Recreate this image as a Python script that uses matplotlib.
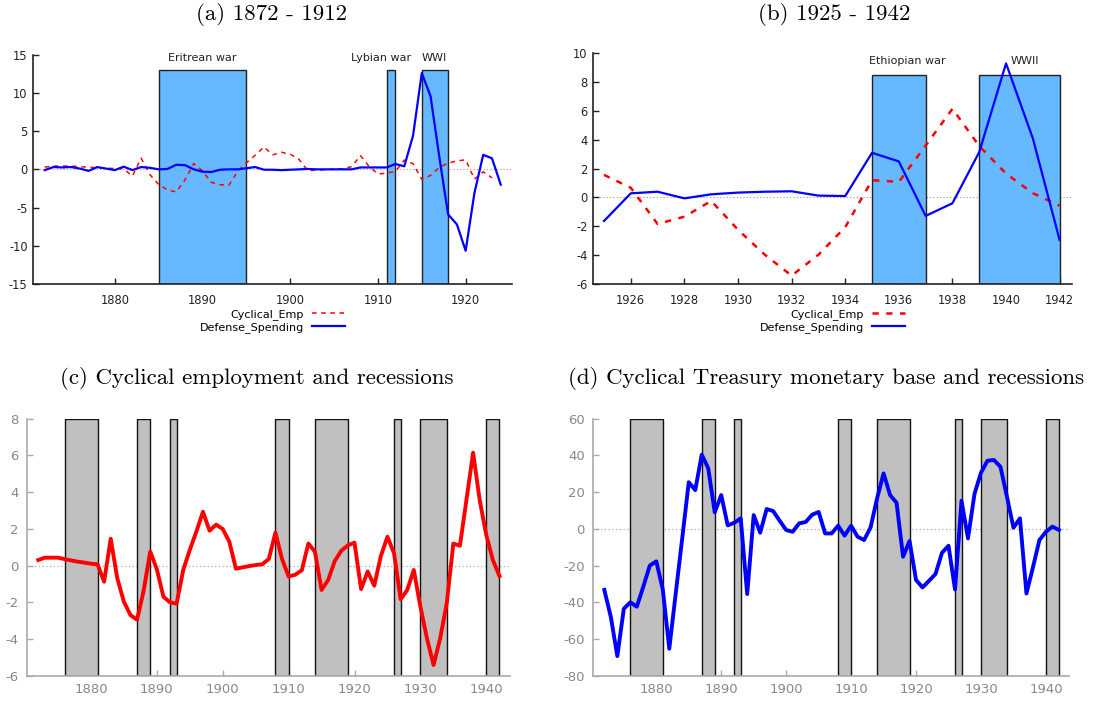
import matplotlib
matplotlib.use("Agg")
import matplotlib.pyplot as plt
import numpy as np

plt.rcParams['axes.unicode_minus'] = False
plt.rcParams['font.family'] = ['DejaVu Sans']

# ---------------- data ----------------
years_a = list(range(1872, 1925))
defense_a = [-0.1, 0.3, 0.25, 0.3, 0.1, -0.2, 0.3, 0.1, -0.1, 0.35,
             -0.1, 0.3, 0.2, 0.0, 0.05, 0.6, 0.55, 0.0, -0.3, -0.35,
             -0.05, 0.0, 0.0, 0.15, 0.3, -0.05, -0.05, -0.1, -0.05, 0.0,
             0.05, 0.0, 0.0, 0.0, 0.0, 0.0, 0.25, 0.25, 0.25, 0.25,
             0.7, 0.4, 4.4, 12.6, 9.55, 1.6, -5.9, -7.2, -10.65, -3.1,
             1.9, 1.45, -2.0]

years_b = list(range(1925, 1943))
defense_b = [-1.63, 0.29, 0.4, -0.06, 0.22, 0.34, 0.4, 0.43, 0.13, 0.1,
             3.1, 2.5, -1.28, -0.4, 3.15, 9.3, 4.1, -2.95]

years_all = list(range(1872, 1943))
cyclical_emp = [0.3, 0.43, 0.43, 0.43, 0.35, 0.28, 0.21, 0.16, 0.1, 0.07,
                -0.88, 1.46, -0.7, -1.97, -2.7, -2.95, -1.37, 0.76, -0.2, -1.7,
                -2.0, -2.08, -0.25, 0.85, 1.85, 2.93, 1.9, 2.23, 1.99, 1.3,
                -0.17, -0.1, -0.03, 0.03, 0.07, 0.36, 1.8, 0.36, -0.6, -0.5,
                -0.26, 1.2, 0.75, -1.33, -0.79, 0.25, 0.81, 1.1, 1.25, -1.28,
                -0.32, -1.1, 0.52, 1.57, 0.67, -1.84, -1.33, -0.24, -2.24, -3.97,
                -5.42, -3.97, -2.06, 1.2, 1.08, 3.6, 6.15, 3.57, 1.66, 0.3,
                -0.57]
monetary_base = [-33.3, -48, -69.3, -43.5, -40, -42.4, -31.5, -20, -17.7, -33,
                 -65.3, -35, -5, 25.4, 21.1, 40.4, 33, 9, 18.4, 1.9,
                 3.3, 5.7, -35.5, 7.5, -2.1, 10.8, 9.7, 4.4, -0.65, -1.6,
                 3, 3.7, 7.7, 9.2, -2.5, -2.5, 1.7, -3.7, 1.7, -4.3,
                 -6.1, 0.8, 16.6, 30.2, 18.4, 14.2, -15.2, -6.6, -27.9, -31.9,
                 -28.3, -24.6, -13, -9.2, -33, 15.3, -5.2, 19, 30.6, 37.1,
                 37.5, 33.8, 17.5, 0.6, 5.7, -35.2, -21, -6.1, -1.6, 1.2,
                 -0.6]

wars_a_start = [1885, 1911, 1915]
wars_a_end = [1895, 1912, 1918]
wars_a_labels = ["Eritrean war", "Lybian war", "WWI"]
wars_a_label_x = [1890, 1910.4, 1916.4]

wars_b_start = [1935, 1939]
wars_b_end = [1937, 1942]
wars_b_labels = ["Ethiopian war", "WWII"]
wars_b_label_x = [1936.3, 1940.7]

rec_start = [1876, 1887, 1892, 1908, 1914, 1926, 1930, 1940]
rec_end = [1881, 1889, 1893, 1910, 1919, 1927, 1934, 1942]

titles = ["(a) 1872 - 1912", "(b) 1925 - 1942",
          "(c) Cyclical employment and recessions",
          "(d) Cyclical Treasury monetary base and recessions"]

W, H = 1110, 702
fig = plt.figure(figsize=(W / 100, H / 100), dpi=100)


def px_axes(x0, x1, ytop, ybot):
    return fig.add_axes([x0 / W, 1 - ybot / H, (x1 - x0) / W, (ybot - ytop) / H])


ax_a = px_axes(33.3, 511.7, 54.7, 284)
ax_b = px_axes(593.3, 1071.7, 53.3, 284)
ax_c = px_axes(26.7, 510, 418.7, 675.7)
ax_d = px_axes(593.3, 1069.3, 418.7, 675.7)

war_color = '#66b8ff'
rec_color = '#c0c0c0'


def style_top(ax):
    for s in ['top', 'right']:
        ax.spines[s].set_visible(False)
    for s in ['left', 'bottom']:
        ax.spines[s].set_color('#222222')
        ax.spines[s].set_linewidth(1.2)
    ax.tick_params(direction='in', length=4, width=1, colors='#222222',
                   labelsize=8.3, pad=4)
    ax.tick_params(axis='x', pad=7)


def style_bottom(ax):
    for s in ['top', 'right']:
        ax.spines[s].set_visible(False)
    for s in ['left', 'bottom']:
        ax.spines[s].set_color('#aaaaaa')
        ax.spines[s].set_linewidth(1.2)
    ax.tick_params(direction='in', length=4, width=1, colors='#aaaaaa',
                   labelcolor='#888888', labelsize=9.5, pad=6)
    ax.tick_params(axis='x', pad=5)


# ---------- panel (a) ----------
ax = ax_a
ax.set_xlim(1870.7, 1925.25)
ax.set_ylim(-15, 15)
ax.axhline(0, color='#999999', lw=0.8, ls=(0, (1, 2)), zorder=1)
ax.bar(wars_a_start, [13 - (-15)] * len(wars_a_start),
       width=np.array(wars_a_end) - np.array(wars_a_start), bottom=-15,
       align='edge', color=war_color, edgecolor='#222222', lw=1.0, zorder=2)
for lx, lab in zip(wars_a_label_x, wars_a_labels):
    ax.text(lx, 14.6, lab, ha='center', va='center', fontsize=8, color='#222222')
ax.plot(years_a[:52], cyclical_emp[:52], color='red', lw=1.1, ls=(0, (3, 3)),
        label='Cyclical_Emp', zorder=3)
ax.plot(years_a, defense_a, color='blue', lw=1.6, label='Defense_Spending', zorder=4)
ax.set_yticks(np.arange(-15, 16, 5))
ax.set_xticks([1880, 1890, 1900, 1910, 1920])
style_top(ax)
ax.legend(loc='upper center', bbox_to_anchor=(0.5, -0.085), frameon=False,
          markerfirst=False, fontsize=8, handlelength=3.0, labelspacing=0.15,
          borderpad=0, handletextpad=0.7)

# ---------- panel (b) ----------
ax = ax_b
ax.set_xlim(1924.6, 1942.45)
ax.set_ylim(-6, 10)
ax.axhline(0, color='#999999', lw=0.8, ls=(0, (1, 2)), zorder=1)
ax.bar(wars_b_start, [8.5 - (-6)] * len(wars_b_start),
       width=np.array(wars_b_end) - np.array(wars_b_start), bottom=-6,
       align='edge', color=war_color, edgecolor='#222222', lw=1.0, zorder=2)
for lx, lab in zip(wars_b_label_x, wars_b_labels):
    ax.text(lx, 9.5, lab, ha='center', va='center', fontsize=8, color='#222222')
ax.plot(years_all[53:], cyclical_emp[53:], color='red', lw=1.8, ls=(0, (2.5, 3)),
        label='Cyclical_Emp', zorder=3)
ax.plot(years_b, defense_b, color='blue', lw=1.6, label='Defense_Spending', zorder=4)
ax.set_yticks(np.arange(-6, 11, 2))
ax.set_xticks(np.arange(1926, 1943, 2))
style_top(ax)
ax.legend(loc='upper center', bbox_to_anchor=(0.5, -0.085), frameon=False,
          markerfirst=False, fontsize=8, handlelength=3.0, labelspacing=0.15,
          borderpad=0, handletextpad=0.7)

# ---------- panel (c) ----------
ax = ax_c
ax.set_xlim(1870.25, 1943.6)
ax.set_ylim(-6, 8)
ax.axhline(0, color='#aaaaaa', lw=0.9, ls=(0, (1, 2)), zorder=1)
ax.bar(rec_start, [14] * len(rec_start),
       width=np.array(rec_end) - np.array(rec_start), bottom=-6,
       align='edge', color=rec_color, edgecolor='#111111', lw=1.0, zorder=2)
ax.plot(years_all, cyclical_emp, color='red', lw=2.8, zorder=3)
ax.set_yticks(np.arange(-6, 9, 2))
ax.set_xticks(np.arange(1880, 1941, 10))
style_bottom(ax)

# ---------- panel (d) ----------
ax = ax_d
ax.set_xlim(1870.3, 1943.6)
ax.set_ylim(-80, 60)
ax.axhline(0, color='#aaaaaa', lw=0.9, ls=(0, (1, 2)), zorder=1)
ax.bar(rec_start, [140] * len(rec_start),
       width=np.array(rec_end) - np.array(rec_start), bottom=-80,
       align='edge', color=rec_color, edgecolor='#111111', lw=1.0, zorder=2)
ax.plot(years_all, monetary_base, color='blue', lw=2.8, zorder=3)
ax.set_yticks(np.arange(-80, 61, 20))
ax.set_xticks(np.arange(1880, 1941, 10))
style_bottom(ax)

# ---------- titles ----------
title_pos = [(271, 15), (834, 15), (257, 379), (826, 379)]
for (tx, ty), t in zip(title_pos, titles):
    fig.text(tx / W, 1 - ty / H, t, ha='center', va='center',
             fontsize=16.5, family=['cmr10', 'DejaVu Serif'])

fig.savefig("out.png", dpi=100)
